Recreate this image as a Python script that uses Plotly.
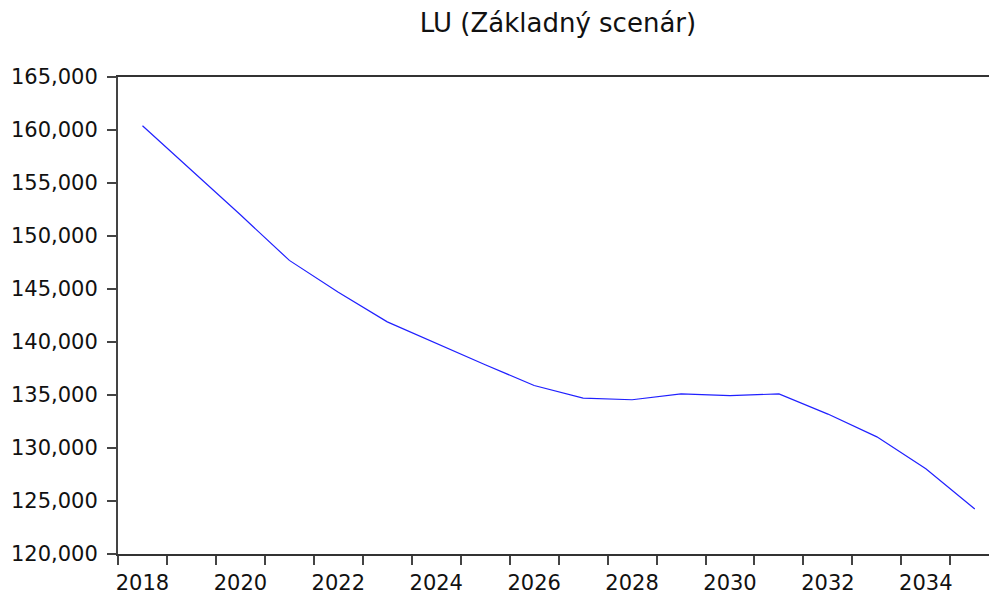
import plotly.graph_objects as go

years = list(range(2018, 2036))
lu_values = [160400, 156200, 152000, 147700, 144700, 141900, 139850, 137850,
             135900, 134700, 134550, 135100, 134950, 135100, 133200, 131050,
             128050, 124250]
label_years = list(range(2018, 2036, 2))
y_ticks = list(range(120000, 165001, 5000))
title_text = "LU (Základný scenár)"

x_centers = [y + 0.5 for y in years]

fig = go.Figure()
fig.add_trace(go.Scatter(x=x_centers, y=lu_values, mode="lines",
                         line=dict(color="#2020FF", width=1.2),
                         showlegend=False, hoverinfo="skip"))

font = dict(family="DejaVu Sans", size=21, color="#111111")

fig.update_layout(
    width=989, height=595,
    margin=dict(l=118, r=0, t=77, b=39, pad=0),
    paper_bgcolor="white", plot_bgcolor="white",
    title=dict(text=title_text, x=558/989, xanchor="center", y=1 - 23/595,
               yanchor="middle", font=dict(family="DejaVu Sans", size=26, color="#111111")),
    xaxis=dict(
        range=[2018, 2018 + (989 - 118) / 48.96],
        tickmode="array", tickvals=[y + 0.5 for y in label_years],
        ticktext=[str(y) for y in label_years],
        ticks="outside", ticklen=9, tickcolor="rgba(0,0,0,0)",
        showline=True, linecolor="#333333", linewidth=2, mirror=True,
        showgrid=False, zeroline=False, tickfont=font,
        minor=dict(ticks="outside", tick0=2018, dtick=1, ticklen=9,
                   tickcolor="#444444", tickwidth=2, showgrid=False),
    ),
    yaxis=dict(
        range=[120000, 165000],
        tickmode="array", tickvals=y_ticks,
        ticktext=[f"{v:,}" for v in y_ticks],
        ticks="outside", ticklen=9, tickcolor="#444444", tickwidth=2,
        ticklabelstandoff=5,
        showline=True, linecolor="#444444", linewidth=2, mirror=False,
        showgrid=False, zeroline=False, tickfont=font,
    ),
)

fig.write_html("out.html", config={"displayModeBar": False},
               post_script="document.body.style.margin='0';document.body.style.padding='0';document.body.style.overflow='hidden';")
